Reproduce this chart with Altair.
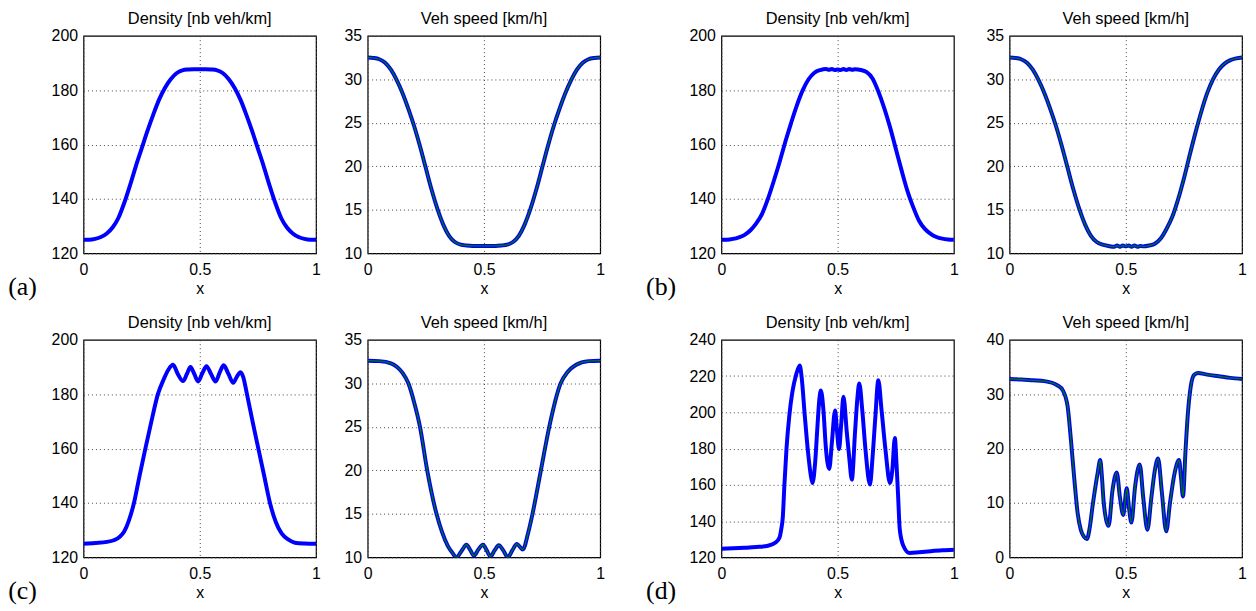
import altair as alt
import pandas as pd

# ---------------- data ----------------
X_UNIFORM = [i / 40 for i in range(41)]

# (a)
a_dens_x = X_UNIFORM
a_dens = [125.0, 125.0, 125.3, 126.0, 127.3, 129.5, 133.0, 138.5, 145.0, 152.0,
          158.5, 165.0, 171.0, 176.5, 180.8, 184.0, 186.2, 187.3, 187.6, 187.7,
          187.7, 187.7, 187.6, 187.3, 186.2, 184.0, 180.8, 176.5, 171.0, 165.0,
          158.5, 152.0, 145.0, 138.5, 133.0, 129.5, 127.3, 126.0, 125.3, 125.0, 125.0]
a_speed_x = X_UNIFORM
a_speed = [32.5, 32.45, 32.3, 31.9, 31.1, 29.9, 28.4, 26.6, 24.6, 22.3,
           19.8, 17.3, 15.1, 13.3, 12.0, 11.3, 11.0, 10.9, 10.85, 10.85,
           10.85, 10.85, 10.85, 10.9, 11.0, 11.3, 12.0, 13.3, 15.1, 17.3,
           19.8, 22.3, 24.6, 26.6, 28.4, 29.9, 31.1, 31.9, 32.3, 32.45, 32.5]

# (b)
b_dens_x = [0, .025, .05, .075, .1, .125, .15, .175, .2, .225, .25, .275, .3, .325,
            .35, .375, .4, .425, .45, .4625, .475, .4875, .5, .5125, .525, .5375,
            .55, .5625, .575, .6, .625, .65, .675, .7, .725, .75, .775, .8, .825,
            .85, .875, .9, .925, .95, .975, 1]
b_dens = [125.0, 125.0, 125.3, 125.9, 126.8, 128.5, 131.0, 134.5, 140.0, 146.5,
          153.5, 161.0, 168.0, 174.5, 180.0, 184.0, 186.4, 187.4, 187.8, 187.5,
          187.8, 187.4, 187.6, 187.4, 187.8, 187.4, 187.8, 187.5, 187.7, 187.4,
          186.6, 184.3, 179.5, 173.5, 166.5, 158.5, 150.5, 143.0, 137.0, 132.0,
          129.0, 127.2, 126.0, 125.4, 125.1, 125.0]
b_speed_x = b_dens_x
b_speed = [32.5, 32.45, 32.3, 31.9, 31.1, 29.9, 28.4, 26.6, 24.6, 22.3,
           19.8, 17.3, 15.1, 13.3, 12.0, 11.3, 11.0, 10.85, 10.75, 10.9,
           10.75, 10.9, 10.8, 10.9, 10.75, 10.9, 10.75, 10.85, 10.8, 10.9,
           11.1, 11.7, 12.8, 14.2, 16.2, 18.6, 21.3, 23.9, 26.3, 28.4,
           30.0, 31.1, 31.8, 32.2, 32.4, 32.5]

# (c)
c_dens_x = [0, .05, .1, .13, .155, .175, .195, .217, .241, .266, .292, .32, .345,
            .365, .385, .405, .428, .445, .46, .476, .493, .51, .529, .548, .568,
            .585, .603, .623, .644, .66, .675, .687, .703, .727, .752, .777, .802,
            .827, .852, .88, .909, .95, 1]
c_dens = [125.0, 125.3, 125.7, 126.3, 127.5, 129.5, 133.5, 140.0, 150.0, 160.0,
          170.0, 180.0, 185.5, 189.0, 190.8, 187.5, 184.8, 187.5, 190.0, 187.5,
          184.7, 187.5, 190.3, 187.5, 184.7, 187.8, 190.6, 187.5, 184.2, 186.5,
          188.1, 186.3, 180.0, 170.0, 160.0, 150.0, 140.0, 133.0, 128.8, 126.6,
          125.4, 125.1, 125.0]
c_speed_x = [0, .05, .1, .125, .15, .175, .2, .225, .256, .296, .32, .345, .365,
             .382, .405, .425, .44, .457, .476, .496, .512, .528, .546, .564, .583,
             .603, .622, .642, .655, .667, .69, .709, .745, .781, .83, .86, .895,
             .95, 1]
c_speed = [32.6, 32.55, 32.3, 31.9, 31.2, 30.0, 27.8, 25.0, 20.0, 15.0,
           12.9, 11.3, 10.5, 10.0, 10.8, 11.45, 10.9, 10.2, 10.9, 11.45,
           10.8, 10.1, 10.8, 11.4, 10.8, 10.0, 10.8, 11.55, 11.2, 10.9,
           12.8, 15.0, 20.0, 25.0, 30.0, 31.3, 32.1, 32.55, 32.6]

# (d)
d_dens_x = [0, .05, .1, .15, .2, .233, .25, .258, .264, .271, .28, .292, .305,
            .322, .337, .345, .359, .373, .385, .392, .403, .413, .421, .428,
            .439, .449, .464, .475, .489, .497, .506, .515, .525, .539, .55,
            .561, .575, .585, .593, .606, .62, .639, .65, .662, .675, .689,
            .706, .725, .735, .746, .753, .76, .767, .782, .81, .85, .9, .95, 1]
d_dens = [124.8, 125.0, 125.3, 125.7, 126.4, 128.2, 131.0, 136.0, 142.0, 160.0,
          180.0, 198.0, 211.0, 221.0, 225.8, 219.5, 197.6, 177.5, 164.8, 161.0,
          172.0, 192.0, 206.8, 212.0, 201.0, 181.0, 168.8, 183.0, 201.0, 190.0,
          179.7, 193.0, 208.6, 189.5, 174.8, 162.9, 189.5, 208.0, 215.9, 201.0,
          179.0, 160.2, 175.0, 197.0, 217.7, 201.0, 179.0, 161.0, 168.0, 185.8,
          172.0, 154.0, 135.7, 126.6, 122.4, 122.8, 123.4, 123.9, 124.2]
d_speed_x = [0, .05, .1, .15, .207, .229, .25, .264, .279, .293, .307, .32, .333,
             .345, .357, .379, .39, .397, .404, .415, .426, .443, .461, .475,
             .489, .504, .514, .524, .54, .56, .575, .593, .61, .625, .639,
             .655, .674, .69, .71, .729, .738, .746, .757, .767, .779, .793,
             .81, .85, .9, .95, 1]
d_speed = [32.8, 32.7, 32.55, 32.4, 31.6, 30.7, 27.7, 21.6, 14.2, 8.1,
           5.0, 3.8, 3.4, 5.5, 9.4, 15.5, 17.9, 15.0, 10.6, 7.0,
           5.8, 12.4, 15.6, 11.0, 7.8, 12.7, 9.0, 6.4, 13.0, 17.1,
           11.0, 5.1, 11.0, 16.0, 18.2, 12.0, 4.8, 10.0, 15.5, 17.9,
           14.5, 11.2, 19.7, 26.4, 31.3, 33.5, 33.9, 33.6, 33.3, 33.0, 32.8]

DENS_TITLE = "Density [nb veh/km]"
SPEED_TITLE = "Veh speed [km/h]"
X_TICKS = [0, 0.5, 1]
DENS_TICKS_ABC = [120, 140, 160, 180, 200]
DENS_TICKS_D = [120, 140, 160, 180, 200, 220, 240]
SPEED_TICKS_ABC = [10, 15, 20, 25, 30, 35]
SPEED_TICKS_D = [0, 10, 20, 30, 40]

# ---------------- styling ----------------
SANS = "Liberation Sans"
SERIF = "Liberation Serif"
W, H = 234, 219
BLUE = "#0000ff"
GREEN = "#007a00"


def panel(xs, ys, title, ydom, yticks, speed=False):
    df = pd.DataFrame({"x": xs, "y": ys})
    base = alt.Chart(df).encode(
        x=alt.X("x:Q", scale=alt.Scale(domain=[0, 1], nice=False),
                axis=alt.Axis(values=X_TICKS, format="~g", title="x", labelFlush=False)),
        y=alt.Y("y:Q", scale=alt.Scale(domain=ydom, nice=False, zero=False),
                axis=alt.Axis(values=yticks, format="d", title=None, labelFlush=False)),
    )
    layers = [base.mark_line(color=BLUE, strokeWidth=4, interpolate="monotone", clip=True)]
    if speed:
        layers.append(base.mark_line(color=GREEN, strokeWidth=1.3,
                                     interpolate="monotone", clip=True))
    return alt.layer(*layers).properties(
        width=W, height=H,
        title=alt.TitleParams(title, anchor="middle", frame="group",
                              font=SANS, fontSize=16.5, fontWeight="normal",
                              color="black", offset=0),
    )


def pair(label, dx, dy, sx, sy, dtick, stick, ddom, sdom, inner):
    return alt.hconcat(
        panel(dx, dy, DENS_TITLE, ddom, dtick),
        panel(sx, sy, SPEED_TITLE, sdom, stick, speed=True),
        spacing=inner,
    ).properties(
        title=alt.TitleParams(label, orient="bottom", anchor="start", font=SERIF,
                              fontSize=26, fontWeight="normal", color="black",
                              dx=-42.5, dy=-23.5, offset=0)
    )


pa = pair("(a)", a_dens_x, a_dens, a_speed_x, a_speed,
          DENS_TICKS_ABC, SPEED_TICKS_ABC, [120, 200], [10, 35], 21)
pb = pair("(b)", b_dens_x, b_dens, b_speed_x, b_speed,
          DENS_TICKS_ABC, SPEED_TICKS_ABC, [120, 200], [10, 35], 25)
pc = pair("(c)", c_dens_x, c_dens, c_speed_x, c_speed,
          DENS_TICKS_ABC, SPEED_TICKS_ABC, [120, 200], [10, 35], 21)
pd_ = pair("(d)", d_dens_x, d_dens, d_speed_x, d_speed,
           DENS_TICKS_D, SPEED_TICKS_D, [120, 240], [0, 40], 25)

row1 = alt.hconcat(pa, pb, spacing=40)
row2 = alt.hconcat(pc, pd_, spacing=40)

chart = alt.vconcat(row1, row2, spacing=14).properties(
    padding=0, background="white"
).configure_view(
    stroke="black", strokeWidth=1.2
).configure_axis(
    labelFont=SANS, labelFontSize=16, labelColor="black",
    titleFont=SANS, titleFontSize=16, titleFontWeight="normal", titleColor="black",
    domain=False, ticks=False, labelPadding=6,
    grid=True, gridColor="#444444", gridDash=[1, 3], gridWidth=1, gridOpacity=1,
).configure_axisX(
    labelPadding=8.5, titlePadding=3
)

chart.save("out.html", embed_options={"renderer": "svg", "actions": False})
